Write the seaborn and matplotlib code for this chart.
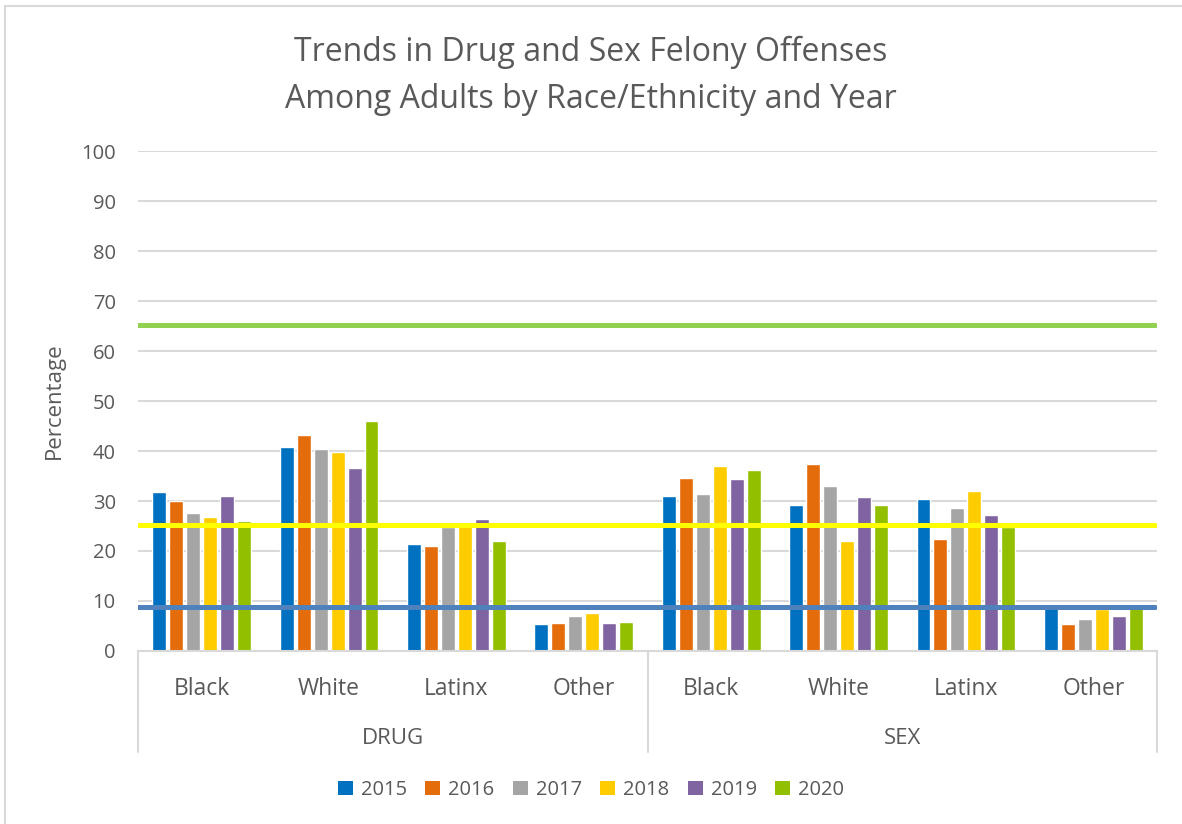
#Import packages
import pandas as pd
import matplotlib
matplotlib.use("Agg")
import matplotlib.pyplot as plt
from matplotlib.patches import Patch
from matplotlib.lines import Line2D
import seaborn as sns

# Chart values
offenses = ["DRUG", "SEX"]
races = ["Black", "White", "Latinx", "Other"]
years = ["2015", "2016", "2017", "2018", "2019", "2020"]

drug_black = [31.8, 30.0, 27.6, 26.9, 31.0, 26.1]
drug_white = [40.9, 43.2, 40.4, 39.9, 36.6, 46.0]
drug_latinx = [21.5, 21.1, 24.8, 25.4, 26.4, 22.0]
drug_other = [5.5, 5.6, 7.1, 7.6, 5.7, 5.8]
sex_black = [31.1, 34.7, 31.5, 37.1, 34.5, 36.2]
sex_white = [29.3, 37.5, 33.1, 22.1, 30.9, 29.3]
sex_latinx = [30.5, 22.5, 28.7, 32.1, 27.3, 24.9]
sex_other = [8.6, 5.4, 6.5, 8.4, 7.1, 9.5]

# Reference lines (green, yellow, blue)
ref_values = [65.3, 25.3, 8.8]
ref_colors = ["#92D050", "#FFFF00", "#4F81BD"]

year_colors = ["#0070C0", "#E46C0A", "#A5A5A5", "#FFCC00", "#8064A2", "#92C000"]

series = [drug_black, drug_white, drug_latinx, drug_other,
          sex_black, sex_white, sex_latinx, sex_other]

# Build long-format table
rows = []
cat_order = []
for i, off in enumerate(offenses):
    for j, race in enumerate(races):
        cat = f"{off}|{race}"
        cat_order.append(cat)
        vals = series[i * len(races) + j]
        for y, v in zip(years, vals):
            rows.append({"category": cat, "year": y, "value": v})
data = pd.DataFrame(rows)

sns.set_style("white")
plt.rcParams["font.family"] = ["Open Sans", "DejaVu Sans"]
text_color = "#595959"
grid_color = "#D9D9D9"

fig = plt.figure(figsize=(11.82, 8.24), dpi=100)
ax = fig.add_axes([138 / 1182, 1 - 651 / 824, (1157 - 138) / 1182, 500 / 824])

sns.barplot(data=data, x="category", y="value", hue="year", order=cat_order,
            hue_order=years, palette=year_colors, width=0.8, gap=0.18,
            legend=False, ax=ax, saturation=1)

ax.set_ylim(0, 100)
ax.set_xlim(-0.5, len(cat_order) - 0.5)
ax.set_yticks(range(0, 101, 10))
ax.yaxis.grid(True, color=grid_color, linewidth=1.5)
ax.set_axisbelow(True)
for s in ["top", "right", "left"]:
    ax.spines[s].set_visible(False)
ax.spines["bottom"].set_color(grid_color)
ax.spines["bottom"].set_linewidth(1.5)
ax.tick_params(axis="y", length=0, pad=16, labelsize=14.5, labelcolor=text_color)

ax.set_xticks(range(len(cat_order)))
ax.set_xticklabels([c.split("|")[1] for c in cat_order])
ax.tick_params(axis="x", length=0, pad=19, labelsize=16.5, labelcolor=text_color)
ax.set_xlabel("")
ax.set_ylabel("Percentage", fontsize=16, color=text_color, labelpad=12)

# Reference lines
for val, col in zip(ref_values, ref_colors):
    ax.axhline(val, xmin=0, xmax=0.998, color=col, linewidth=3.6, zorder=5)

# Multi-level axis separators and group labels
sep_bottom = -(752 - 651) / 500
for xpos in [0, 0.5, 1]:
    ax.add_line(Line2D([xpos, xpos], [0, sep_bottom], transform=ax.transAxes,
                       color=grid_color, linewidth=1.5, clip_on=False))
for k, off in enumerate(offenses):
    ax.text(0.25 + 0.5 * k, -(738 - 651) / 500, off, transform=ax.transAxes,
            ha="center", va="center", fontsize=16, color=text_color)

# Title
fig.text(0.5, 1 - 52 / 824, "Trends in Drug and Sex Felony Offenses",
         ha="center", va="center", fontsize=23, color=text_color)
fig.text(0.5, 1 - 99 / 824, "Among Adults by Race/Ethnicity and Year",
         ha="center", va="center", fontsize=23, color=text_color)

# Legend
handles = [Patch(facecolor=c, edgecolor="none", label=y) for y, c in zip(years, year_colors)]
fig.legend(handles=handles, loc="center", bbox_to_anchor=(0.5, 1 - 790 / 824),
           ncol=6, frameon=False, fontsize=14.5, handlelength=0.75, handleheight=0.75,
           handletextpad=0.4, columnspacing=0.9, labelcolor=text_color)

# Outer chart border (left and top edges visible)
fig.add_artist(Line2D([5 / 1182, 5 / 1182], [0, 1 - 6 / 824], transform=fig.transFigure,
                      color=grid_color, linewidth=1.5))
fig.add_artist(Line2D([5 / 1182, 1], [1 - 6 / 824, 1 - 6 / 824], transform=fig.transFigure,
                      color=grid_color, linewidth=1.5))

fig.savefig("out.png", dpi=100)
